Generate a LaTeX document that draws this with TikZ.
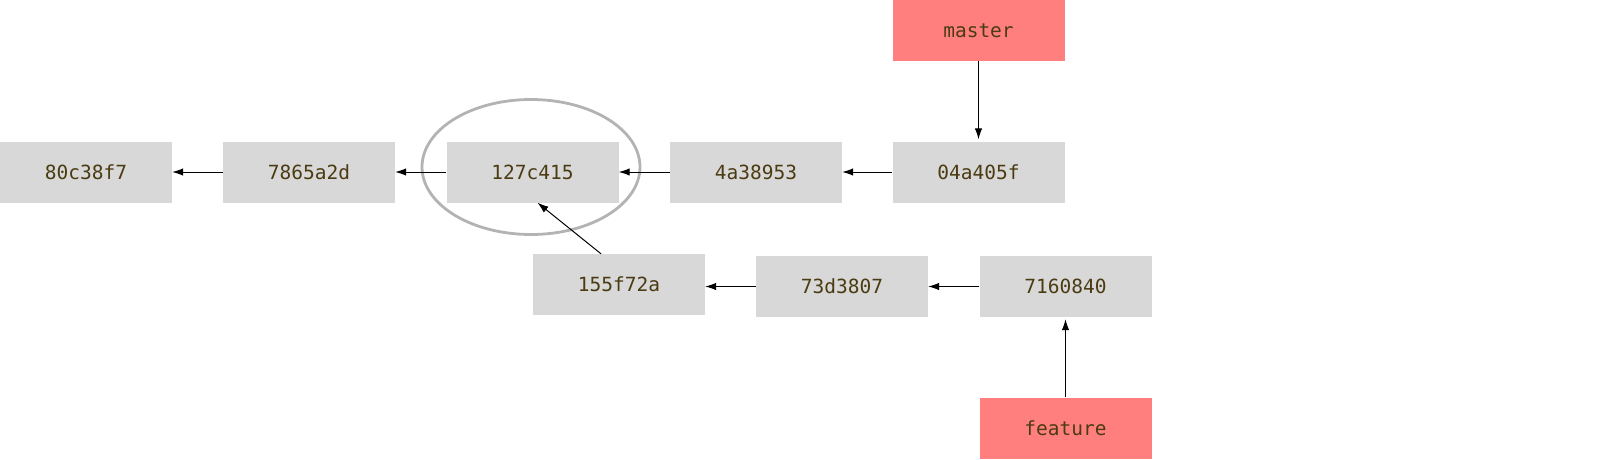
\documentclass[tikz,border=0pt]{standalone}
\usepackage{fontspec}
\setmonofont{DejaVu Sans Mono}
\usepackage{xcolor}
\usetikzlibrary{arrows.meta,shapes.geometric}

\definecolor{commitgray}{HTML}{D8D8D8}
\definecolor{branchred}{HTML}{FF7F7F}
\definecolor{hashtext}{HTML}{4B3B12}
\definecolor{ringgray}{HTML}{B3B3B3}

\begin{document}
\begin{tikzpicture}[
  x=1pt, y=-1pt,
  commit/.style={fill=commitgray, minimum width=172pt, minimum height=61pt, inner sep=0pt,
    font=\ttfamily\fontsize{19.5}{22}\selectfont, text=hashtext},
  branch/.style={commit, fill=branchred},
  arrow/.style={-{Latex[length=11pt,width=7.5pt]}, line width=1pt},
  ring/.style={ellipse, draw=ringgray, line width=2.8pt, inner sep=0pt}
]
\useasboundingbox (0,0) rectangle (1598,460);

% main line
\foreach \x/\h in {86/80c38f7,309/7865a2d,532.5/127c415,756/4a38953,978.5/04a405f} {
  \node[commit] (c\h) at (\x,172) {\h};
}
% topic line
\node[commit] (c155f72a) at (619,284.5) {155f72a};
\node[commit] (c73d3807) at (842,286.5) {73d3807};
\node[commit] (c7160840) at (1065.5,286.5) {7160840};

% branches
\node[branch] (master) at (978.5,30.5) {master};
\node[branch] (feature) at (1065.5,428) {feature};

\node[ring, minimum width=218pt, minimum height=135pt] (base) at (531,167) {};

\draw[arrow] (c7865a2d) -- (c80c38f7);
\draw[arrow] (c127c415) -- (c7865a2d);
\draw[arrow] (c4a38953) -- (c127c415);
\draw[arrow] (c04a405f) -- (c4a38953);
\draw[arrow] (c73d3807.west) -- (c73d3807.west -| c155f72a.east);
\draw[arrow] (c7160840) -- (c73d3807);
\draw[arrow] ([xshift=-18pt]c155f72a.north) -- ([xshift=5pt]c127c415.south);
\draw[arrow, shorten >=2pt] (master) -- (c04a405f);
\draw[arrow, shorten >=2pt] (feature) -- (c7160840);
\end{tikzpicture}
\end{document}
